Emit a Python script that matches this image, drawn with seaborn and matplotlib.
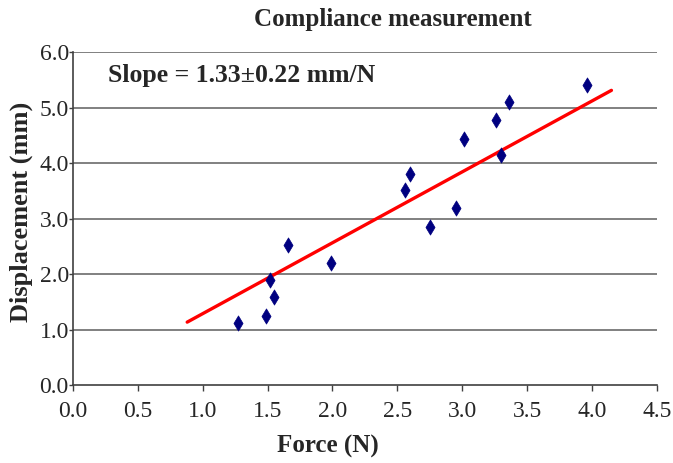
import matplotlib
matplotlib.use("Agg")
import matplotlib.pyplot as plt
import seaborn as sns
import pandas as pd

force = [1.27, 1.49, 1.55, 1.52, 1.66, 1.99, 2.75, 2.95, 2.56, 2.60, 3.01, 3.30, 3.26, 3.36, 3.96]
displacement = [1.12, 1.25, 1.59, 1.90, 2.52, 2.20, 2.85, 3.19, 3.51, 3.81, 4.44, 4.14, 4.78, 5.10, 5.41]

# trend line ends as drawn
trend_x = [0.88, 4.15]
trend_y = [1.14, 5.31]

x_ticks = [0.0, 0.5, 1.0, 1.5, 2.0, 2.5, 3.0, 3.5, 4.0, 4.5]
y_ticks = [0.0, 1.0, 2.0, 3.0, 4.0, 5.0, 6.0]

df = pd.DataFrame({"force": force, "disp": displacement})
trend = pd.DataFrame({"force": trend_x, "disp": trend_y})

sns.set_style("white")
plt.rcParams["font.family"] = ["Liberation Serif", "DejaVu Serif"]

fig = plt.figure(figsize=(6.73, 4.63), dpi=100)
ax = fig.add_axes([0.1085, 0.1674, 0.8675, 0.7203])

for yv in y_ticks[1:]:
    ax.axhline(yv, color="#808080", lw=1.4, zorder=0)

sns.lineplot(data=trend, x="force", y="disp", color="#ff0000", lw=2.4, ax=ax, zorder=2)
sns.scatterplot(data=df, x="force", y="disp", marker="d", s=60, color="#000080",
                edgecolor="#000080", linewidth=0.5, ax=ax, zorder=3)

ax.set_xlim(0, 4.5)
ax.set_ylim(0, 6)
ax.set_xticks(x_ticks)
ax.set_yticks(y_ticks)
ax.set_xticklabels([f"{v:.1f}" for v in x_ticks])
ax.set_yticklabels([f"{v:.1f}" for v in y_ticks])
ax.tick_params(axis="both", labelsize=17, direction="out", width=1,
               color="#404040", bottom=True, left=True)
ax.tick_params(axis="x", length=4, pad=7)
ax.tick_params(axis="y", length=3, pad=0)
ax.set_xlabel("")
ax.set_ylabel("")

for side in ["top", "right"]:
    ax.spines[side].set_visible(False)
for side in ["left", "bottom"]:
    ax.spines[side].set_color("#404040")
    ax.spines[side].set_linewidth(1.2)

ax.text(0.06, 0.931, "Slope = 1.33\u00b10.22 mm/N", transform=ax.transAxes,
        fontsize=18.5, fontweight="bold", va="center", ha="left")

fig.text(0.584, 0.957, "Compliance measurement", fontsize=18, fontweight="bold",
         ha="center", va="center")
fig.text(0.487, 0.035, "Force (N)", fontsize=18, fontweight="bold",
         ha="center", va="center")
fig.text(0.031, 0.542, "Displacement (mm)", fontsize=19, fontweight="bold",
         ha="center", va="center", rotation=90)

fig.savefig("out.png", dpi=100)
